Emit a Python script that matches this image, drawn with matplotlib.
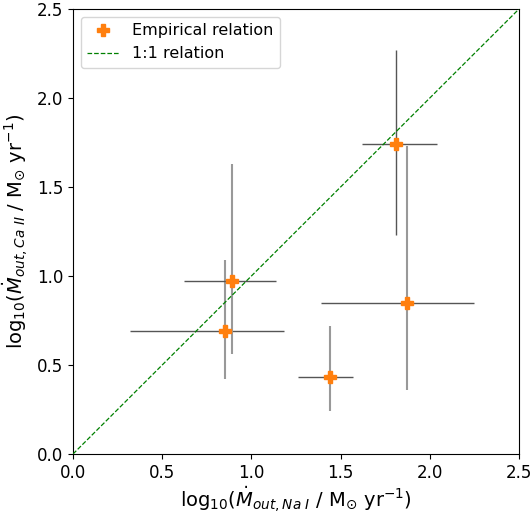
import matplotlib
matplotlib.use("Agg")
import matplotlib.pyplot as plt
import numpy as np

# Data (log10 mass outflow rates)
x_na = [0.85, 0.89, 1.81, 1.87, 1.44]
y_ca = [0.69, 0.97, 1.74, 0.85, 0.43]
x_err_lo = [0.53, 0.27, 0.19, 0.48, 0.18]
x_err_hi = [0.33, 0.25, 0.23, 0.38, 0.13]
y_err_lo = [0.27, 0.41, 0.51, 0.49, 0.19]
y_err_hi = [0.40, 0.66, 0.53, 0.88, 0.29]
y_dark = [False, False, True, False, False]

fig = plt.figure(figsize=(5.32, 5.15), dpi=100)
ax = fig.add_axes([73/532, 1-454/515, 446/532, 445/515])

for i in range(len(x_na)):
    ax.errorbar(x_na[i], y_ca[i], xerr=[[x_err_lo[i]], [x_err_hi[i]]],
                fmt='none', ecolor='#555555', elinewidth=1.0, zorder=2)
    if y_dark[i]:
        ax.errorbar(x_na[i], y_ca[i], yerr=[[y_err_lo[i]], [y_err_hi[i]]],
                    fmt='none', ecolor='#555555', elinewidth=1.0, zorder=2)
    else:
        ax.errorbar(x_na[i], y_ca[i], yerr=[[y_err_lo[i]], [y_err_hi[i]]],
                    fmt='none', ecolor='#999999', elinewidth=1.5, zorder=2)

ax.plot(x_na, y_ca, linestyle='none', marker='P', color='#ff7f0e',
        markersize=8, label='Empirical relation', zorder=4)
lim = [0, 2.5]
ax.plot(lim, lim, 'g--', linewidth=0.9, label='1:1 relation', zorder=3)

ax.set_xlim(0, 2.5)
ax.set_ylim(0, 2.5)
ax.set_xticks([0.0, 0.5, 1.0, 1.5, 2.0, 2.5])
ax.set_yticks([0.0, 0.5, 1.0, 1.5, 2.0, 2.5])
ax.tick_params(labelsize=12)
ax.set_xlabel(r'log$_{10}$($\dot{M}_{out,Na\ I}$ / M$_{\odot}$ yr$^{-1}$)', fontsize=14, labelpad=2)
ax.set_ylabel(r'log$_{10}$($\dot{M}_{out,Ca\ II}$ / M$_{\odot}$ yr$^{-1}$)', fontsize=14, labelpad=4)
ax.legend(loc='upper left', fontsize=11.5)

fig.savefig('out.png', dpi=100)
